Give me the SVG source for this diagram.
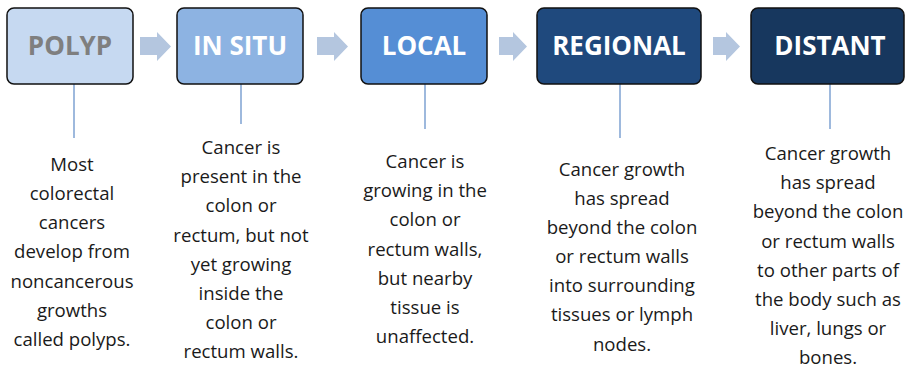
<svg xmlns="http://www.w3.org/2000/svg" width="905" height="370" viewBox="0 0 905 370">
<style>
.box{stroke:#111;stroke-width:1.5}
.t{font-family:"Open Sans","Liberation Sans",sans-serif;font-weight:bold;font-size:26px;text-anchor:middle;fill:#fff}
.d{font-family:"Open Sans","Liberation Sans",sans-serif;font-size:18.6px;text-anchor:middle;fill:#1a1a1a}
.ar{fill:#b4c6df}
.ln{stroke:#7ea2d2;stroke-width:1.5;fill:none}
</style>
<rect width="905" height="370" fill="#fff"/>
<g id="connectors">
<path class="ar" d="M140,37H157V32L171,46.5L157,61V55H140Z"/>
<path class="ar" d="M317,37H334V32L348,46.5L334,61V55H317Z"/>
<path class="ar" d="M499,37H513V32L527,46.5L513,61V55H499Z"/>
<path class="ar" d="M713,37H726V32L740,46.5L726,61V55H713Z"/>
<line class="ln" x1="74" y1="84" x2="74" y2="138"/>
<line class="ln" x1="241" y1="84" x2="241" y2="124"/>
<line class="ln" x1="425" y1="84" x2="425" y2="129"/>
<line class="ln" x1="620" y1="84" x2="620" y2="138"/>
<line class="ln" x1="830" y1="84" x2="830" y2="129"/>
</g>
<g id="polyp">
<rect class="box" x="7" y="8" width="126" height="76" rx="7" fill="#c6d9f1"/>
<text class="t" x="70" y="55" style="fill:#7f7f7f">POLYP</text>
<text class="d" x="72"><tspan x="72" y="171">Most</tspan><tspan x="72" y="200">colorectal</tspan><tspan x="72" y="229">cancers</tspan><tspan x="72" y="258">develop from</tspan><tspan x="72" y="288">noncancerous</tspan><tspan x="72" y="317">growths</tspan><tspan x="72" y="346">called polyps.</tspan></text>
</g>
<g id="in-situ">
<rect class="box" x="177" y="8" width="126" height="76" rx="7" fill="#8db3e2"/>
<text class="t" x="240" y="55">IN SITU</text>
<text class="d"><tspan x="241" y="154">Cancer is</tspan><tspan x="241" y="183">present in the</tspan><tspan x="241" y="212">colon or</tspan><tspan x="241" y="242">rectum, but not</tspan><tspan x="241" y="271">yet growing</tspan><tspan x="241" y="300">inside the</tspan><tspan x="241" y="329">colon or</tspan><tspan x="241" y="358">rectum walls.</tspan></text>
</g>
<g id="local">
<rect class="box" x="361" y="8" width="126" height="76" rx="7" fill="#558ed5"/>
<text class="t" x="424" y="55">LOCAL</text>
<text class="d"><tspan x="425" y="168">Cancer is</tspan><tspan x="425" y="197">growing in the</tspan><tspan x="425" y="226">colon or</tspan><tspan x="425" y="256">rectum walls,</tspan><tspan x="425" y="285">but nearby</tspan><tspan x="425" y="314">tissue is</tspan><tspan x="425" y="343">unaffected.</tspan></text>
</g>
<g id="regional">
<rect class="box" x="537" y="8" width="164" height="76" rx="7" fill="#1f497d"/>
<text class="t" x="619" y="55">REGIONAL</text>
<text class="d"><tspan x="622" y="176">Cancer growth</tspan><tspan x="622" y="205">has spread</tspan><tspan x="622" y="234">beyond the colon</tspan><tspan x="622" y="263">or rectum walls</tspan><tspan x="622" y="292">into surrounding</tspan><tspan x="622" y="321">tissues or lymph</tspan><tspan x="622" y="351">nodes.</tspan></text>
</g>
<g id="distant">
<rect class="box" x="751" y="8" width="153" height="76" rx="7" fill="#17375e"/>
<text class="t" x="830" y="55">DISTANT</text>
<text class="d"><tspan x="828" y="160">Cancer growth</tspan><tspan x="828" y="189">has spread</tspan><tspan x="828" y="218">beyond the colon</tspan><tspan x="828" y="248">or rectum walls</tspan><tspan x="828" y="277">to other parts of</tspan><tspan x="828" y="306">the body such as</tspan><tspan x="828" y="335">liver, lungs or</tspan><tspan x="828" y="364">bones.</tspan></text>
</g>
</svg>
